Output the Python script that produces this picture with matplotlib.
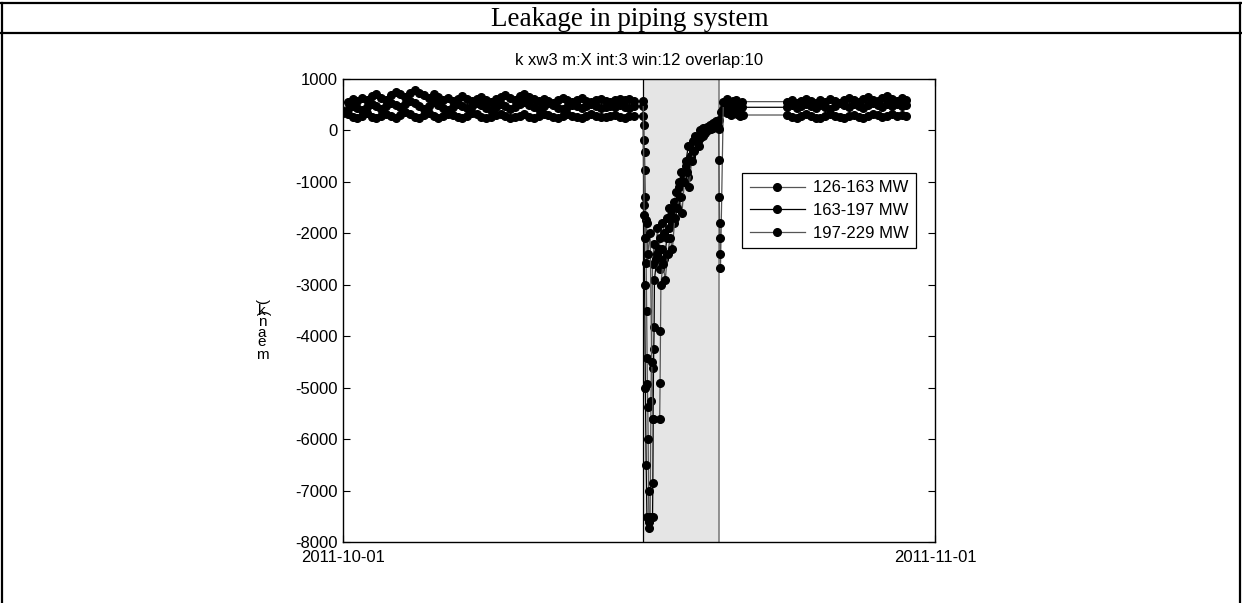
import numpy as np
import pandas as pd
import matplotlib
matplotlib.use('Agg')
import matplotlib.pyplot as plt
import matplotlib.dates as mdates

plt.rcParams['font.family'] = ['Liberation Sans', 'DejaVu Sans']
plt.rcParams['axes.unicode_minus'] = False

labels = ['126-163 MW', '163-197 MW', '197-229 MW']

# before the event, 6-hourly from 2011-10-01 00:00
t_a = pd.date_range('2011-10-01 00:00', '2011-10-16 06:00', freq='6h')
s1a = [340, 310, 270, 250, 290, 330, 270, 240, 280, 320,
       280, 250, 300, 350, 310, 270, 250, 300, 340, 290,
       250, 280, 320, 300, 260, 240, 290, 330, 310, 270,
       240, 260, 300, 320, 280, 240, 260, 290, 310, 270,
       250, 280, 320, 300, 260, 250, 290, 310, 280, 260,
       250, 290, 320, 290, 270, 260, 290, 300, 270, 250,
       280, 290]
s2a = [360, 420, 480, 430, 390, 450, 520, 470, 420, 480,
       540, 500, 450, 510, 580, 530, 470, 420, 480, 550,
       500, 440, 400, 460, 520, 480, 430, 470, 530, 490,
       440, 400, 450, 510, 470, 420, 460, 520, 560, 500,
       450, 420, 470, 530, 490, 440, 410, 460, 500, 470,
       430, 480, 520, 470, 440, 460, 480, 450, 490, 460,
       440, 470]
s3a = [380, 560, 620, 580, 640, 600, 660, 700, 640, 600,
       680, 740, 700, 650, 720, 780, 730, 680, 640, 700,
       650, 600, 640, 580, 620, 660, 610, 570, 620, 650,
       600, 560, 610, 650, 690, 640, 600, 660, 700, 650,
       610, 580, 620, 570, 540, 590, 630, 600, 560, 600,
       630, 580, 550, 590, 620, 580, 560, 600, 620, 590,
       610, 570]

# leakage event, hours after 2011-10-16 17:00
ev_start = pd.Timestamp('2011-10-16 17:00')
ev1_h = [0.5, 1.0, 1.5, 2.0, 2.5, 3.0, 3.5, 4.0, 4.5, 5.0, 5.5, 6.0, 6.5, 7.0, 7.5, 8.0,
         9, 10, 12, 14, 16, 18, 20, 22, 24,
         27, 30, 33, 36, 39, 42, 45, 48, 51, 54, 57, 60, 63, 66, 69, 72, 75, 78,
         82, 86, 90, 94, 98, 102, 106, 110, 114, 118, 122, 126]
ev1_v = [290, 105, -185, -420, -770, -1300, -1750, -2570, -3500, -4430, -4920, -5380, -5990, -7000, -7620, -7720,
         -7520, -5250, -2600, -2200, -2500, -1900, -2300, -2100, -1800,
         -2000, -1700, -1500, -1800, -1400, -1200, -1000, -1300, -900, -700, -900, -500, -400, -300, -200, -150, -100, -50,
         0, 30, 60, 80, 350, 380, 330, 300, 350, 320, 280, 300]
ev2_h = [0.2, 1, 2, 3, 4, 5, 8, 12.0, 12.4, 12.8, 13.2, 13.6, 14.0, 14.4,
         18, 21, 24, 27, 30, 33, 36, 39, 42, 45, 48, 51, 54, 57, 60, 63, 66, 69, 72, 75, 78, 81, 84,
         88, 92, 96, 100, 104, 108, 112, 116, 120, 124]
ev2_v = [470, -1450, -3000, -5000, -6500, -7520, -7600, -7520, -6860, -5600, -4610, -4240, -3830, -2900,
         -2400, -2700, -2300, -2500, -2100, -1900, -1600, -1800, -1400, -1100, -800, -1000, -600, -300, -500, -200, -100, -150, 0, 50, 20, 60, 100,
         140, 180, 200, 420, 480, 450, 500, 460, 430, 450]
ev3_h = [0.3, 1.5, 3.0, 4.5, 6.0, 9.0, 11.0, 12.6, 21.0, 21.5, 22.0, 22.5,
         25, 28, 31, 34, 37, 40, 43, 46, 49, 52, 55, 58, 61, 64, 67, 70, 73, 76, 79, 82, 85, 88, 91, 94,
         95.0, 95.4, 95.8, 96.2, 96.6, 97.0, 97.4, 101, 105, 109, 113, 117, 121, 125]
ev3_v = [570, -1650, -2100, -1800, -2400, -2000, -4500, -5600, -5600, -4900, -3900, -3000,
         -2600, -2900, -2400, -2100, -2300, -1700, -1500, -1300, -1600, -1000, -800, -1100, -600, -400, -200, -300, -100, -50, 0, 40, 80, 50, 100, 60,
         20, -575, -1300, -1790, -2100, -2400, -2680, 560, 620, 530, 580, 600, 540, 560]

# after the event, 6-hourly
t_c = pd.date_range('2011-10-24 06:00', '2011-10-30 12:00', freq='6h')
s1c = [300, 270, 250, 290, 320, 280, 250, 240, 280, 310,
       290, 260, 250, 280, 300, 270, 250, 290, 320, 300,
       270, 290, 310, 280, 300, 290]
s2c = [450, 490, 430, 470, 520, 480, 440, 500, 460, 420,
       480, 530, 490, 450, 510, 470, 440, 490, 540, 500,
       460, 520, 480, 510, 470, 490]
s3c = [560, 600, 540, 580, 620, 570, 530, 590, 560, 610,
       580, 540, 600, 640, 590, 560, 620, 650, 600, 570,
       630, 660, 610, 580, 640, 600]

leak_start = pd.Timestamp('2011-10-16 17:00')
leak_end = pd.Timestamp('2011-10-20 16:30')

W, H = 1242, 603
fig = plt.figure(figsize=(W / 100, H / 100), dpi=100)

# outer frame / header row
fig.add_artist(plt.Line2D([0, 1], [1 - 3 / H, 1 - 3 / H], color='k', lw=1.6))
fig.add_artist(plt.Line2D([0, 1], [1 - 33 / H, 1 - 33 / H], color='k', lw=1.6))
fig.add_artist(plt.Line2D([2 / W, 2 / W], [0, 1 - 3 / H], color='k', lw=1.6))
fig.add_artist(plt.Line2D([1 - 2 / W, 1 - 2 / W], [0, 1 - 3 / H], color='k', lw=1.6))
fig.text(630 / W, 1 - 19 / H, 'Leakage in piping system', ha='center', va='center',
         family=['Liberation Serif', 'DejaVu Serif'], fontsize=19.5)

ax = fig.add_axes([343 / W, 1 - 542 / H, 592 / W, 463 / H])

ax.axvspan(leak_start, leak_end, facecolor='#e5e5e5', edgecolor='none', zorder=0)
ax.axvline(leak_start, color='k', lw=0.9, zorder=1)
ax.axvline(leak_end, color='#808080', lw=1.2, zorder=1)

ev_t = [ev_start + pd.to_timedelta(ev1_h, unit='h'),
        ev_start + pd.to_timedelta(ev2_h, unit='h'),
        ev_start + pd.to_timedelta(ev3_h, unit='h')]
series = [(s1a, ev1_v, s1c), (s2a, ev2_v, s2c), (s3a, ev3_v, s3c)]
line_cols = ['#555555', 'black', '#555555']

for i, (a, e, c) in enumerate(series):
    t = np.concatenate([t_a.values, ev_t[i].values, t_c.values])
    v = np.concatenate([a, e, c])
    ax.plot(t, v, '-o', color=line_cols[i], lw=0.9, markersize=5.5,
            markerfacecolor='k', markeredgecolor='k', label=labels[i], zorder=3)

ax.set_xlim(pd.Timestamp('2011-10-01'), pd.Timestamp('2011-11-01'))
ax.set_ylim(-8000, 1000)
ax.set_yticks(np.arange(-8000, 1001, 1000))
ax.set_xticks([pd.Timestamp('2011-10-01'), pd.Timestamp('2011-11-01')])
ax.xaxis.set_major_formatter(mdates.DateFormatter('%Y-%m-%d'))
ax.tick_params(direction='in', top=True, right=True, length=5, width=0.8,
               labelsize=12, colors='k')
ax.tick_params(axis='y', pad=4)
ax.tick_params(axis='x', pad=6)
for sp in ax.spines.values():
    sp.set_linewidth(1.0)

ax.set_title('k xw3 m:X int:3 win:12 overlap:10', fontsize=12, pad=10)

leg = ax.legend(loc='upper left', bbox_to_anchor=(742 / W, 1 - 173 / H),
                bbox_transform=fig.transFigure, fontsize=12, frameon=True,
                fancybox=False, framealpha=1, edgecolor='k', borderaxespad=0,
                handlelength=3.3, handletextpad=0.5, labelspacing=0.45,
                borderpad=0.45)
leg.get_frame().set_linewidth(0.9)

# garbled stacked y label, as in the source figure
ylab_chars = [')', 'k', '(', 'n', 'a', 'e', 'm']
ylab_pos = [302, 311, 314, 322, 333, 342, 355]
for ch, yp in zip(ylab_chars, ylab_pos):
    rot = -90 if ch in '()' else 0
    fig.text(262 / W, 1 - yp / H, ch, ha='center', va='center', fontsize=11, rotation=rot)

fig.savefig('out.png', dpi=100)
